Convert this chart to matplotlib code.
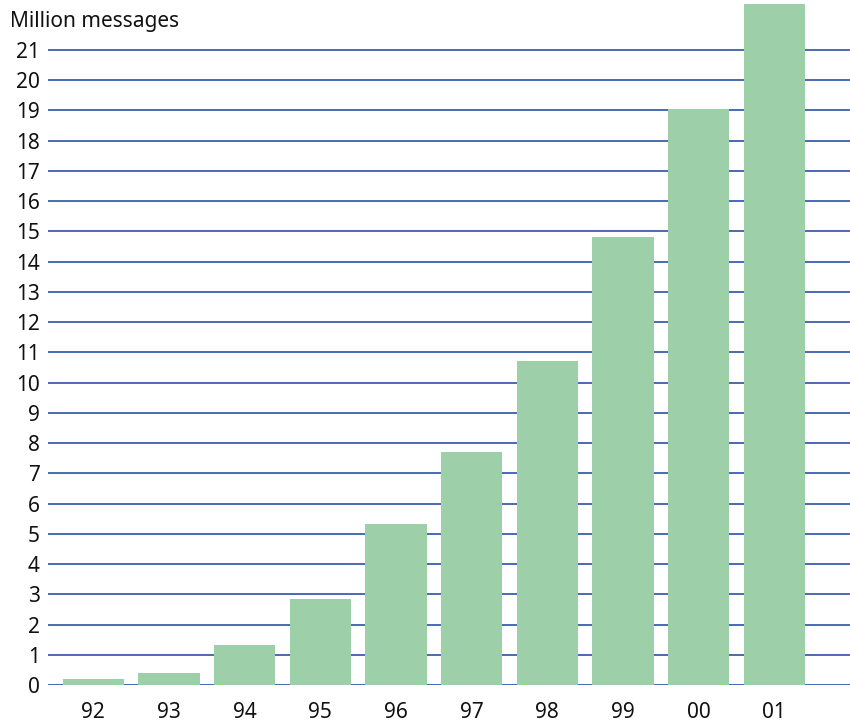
import matplotlib
matplotlib.use("Agg")
import matplotlib.pyplot as plt

years = ["92", "93", "94", "95", "96", "97", "98", "99", "00", "01"]
messages = [0.20, 0.40, 1.32, 2.84, 5.32, 7.70, 10.71, 14.81, 19.05, 22.52]
y_ticks = list(range(0, 22))

plt.rcParams['font.family'] = ['Noto Sans', 'DejaVu Sans']

fig = plt.figure(figsize=(8.5, 7.22), dpi=100)
ax = fig.add_axes([48/850, 37/722, 1 - 48/850, 1 - 37/722])

grid_color = "#2a52a3"
for t in y_ticks:
    ax.axhline(t, color=grid_color, lw=1.2, zorder=1)

ax.bar(range(len(years)), messages, width=0.81, color="#9dd0a8", zorder=2)

ax.set_xlim(-0.60, 10.0)
ax.set_ylim(0, 22.65)
ax.set_yticks(y_ticks)
ax.set_yticklabels([str(t) for t in y_ticks])
ax.set_xticks(range(len(years)))
ax.set_xticklabels(years)
ax.tick_params(axis='both', length=0, labelsize=15, colors="#111111")
ax.tick_params(axis='y', pad=6)
ax.tick_params(axis='x', pad=12)
for s in ax.spines.values():
    s.set_visible(False)

fig.text(10/850, 1 - 22/722, "Million messages", fontsize=15, va="center", ha="left", color="#111111")

fig.savefig("out.png", dpi=100)
